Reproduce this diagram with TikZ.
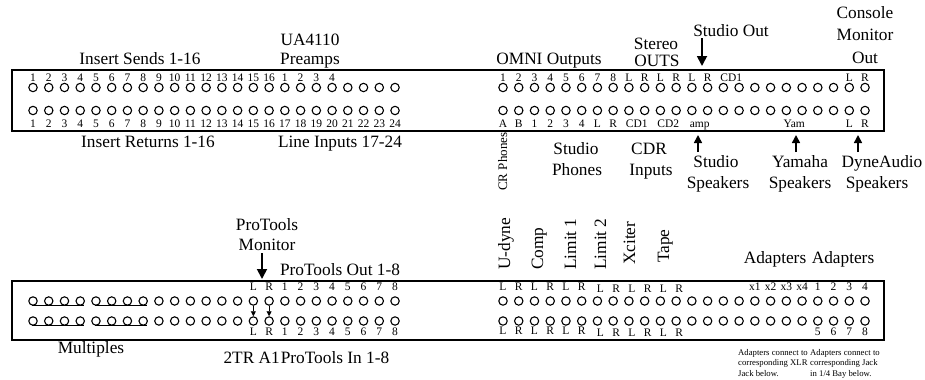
\documentclass[tikz,border=0pt]{standalone}
\usepackage{fontspec}
\setmainfont{Liberation Serif}
\usetikzlibrary{arrows.meta}
\begin{document}
\begin{tikzpicture}[x=1bp,y=-1bp,
  jack/.style={circle,draw,line width=1.1bp,minimum size=8.4bp,inner sep=0pt},
  big/.style={font=\fontsize{17.3bp}{20bp}\selectfont,inner sep=0pt,anchor=base},
  small/.style={font=\fontsize{11.5bp}{13bp}\selectfont,inner sep=0pt,anchor=base},
  vlab/.style={font=\fontsize{17.3bp}{20bp}\selectfont,inner sep=0pt,rotate=90,anchor=base west},
  note/.style={font=\fontsize{8.7bp}{10.5bp}\selectfont,inner sep=0pt,align=left,anchor=north west},
  panel/.style={draw,line width=1.7bp,inner sep=0pt,anchor=north west},
  bigarrow/.style={line width=1.8bp,-{Triangle[width=10bp,length=10bp]}},
  uparrow/.style={line width=1.6bp,-{Triangle[width=8bp,length=8bp]}},
  smallarrow/.style={line width=0.9bp,-{Triangle[width=5bp,length=5bp]}},
  mult/.style={line width=0.9bp}
]
\useasboundingbox (0,0) rectangle (925,379);

% panels
\node[panel,minimum width=872bp,minimum height=61bp] (ptop) at (11,69) {};
\node[panel,minimum width=872bp,minimum height=59bp] (pbot) at (11,280) {};

% jacks
\foreach \k in {0,...,23}{
  \node[jack] (a1-\k) at ({33+15.74*\k},87.5) {};
  \node[jack] (a2-\k) at ({33+15.74*\k},110.5) {};
  \node[jack] (b1-\k) at ({503+15.74*\k},87.5) {};
  \node[jack] (b2-\k) at ({503+15.74*\k},110.5) {};
  \node[jack] (c1-\k) at ({33+15.74*\k},301) {};
  \node[jack] (c2-\k) at ({33+15.74*\k},321) {};
  \node[jack] (d1-\k) at ({503+15.74*\k},301) {};
  \node[jack] (d2-\k) at ({503+15.74*\k},321) {};
}

% ---------- top panel labels ----------
\foreach \i in {0,...,15}{\pgfmathtruncatemacro\n{\i+1}
  \node[small] (la1-\i) at ({33+15.74*\i},81) {\n};}
\foreach \i in {16,...,19}{\pgfmathtruncatemacro\n{\i-15}
  \node[small] (la1-\i) at ({33+15.74*\i},81) {\n};}
\foreach \i in {0,...,23}{\pgfmathtruncatemacro\n{\i+1}
  \node[small] (la2-\i) at ({33+15.74*\i},127) {\n};}

\foreach \t [count=\i from 0] in {1,2,3,4,5,6,7,8,L,R,L,R,L,R}{
  \node[small] (lb1-\i) at ({503+15.74*\i},81) {\t};}
\node[small] (lb1-cd) at ({503+15.74*14.5},81) {CD1};
\node[small] (lb1-22) at ({503+15.74*22},81) {L};
\node[small] (lb1-23) at ({503+15.74*23},81) {R};

\foreach \t [count=\i from 0] in {A,B,1,2,3,4,L,R}{
  \node[small] (lb2-\i) at ({503+15.74*\i},127) {\t};}
\node[small] (lb2-cd1) at ({503+15.74*8.5},127) {CD1};
\node[small] (lb2-cd2) at ({503+15.74*10.5},127) {CD2};
\node[small] (lb2-amp) at ({503+15.74*12.5},127) {amp};
\node[small] (lb2-yam) at ({503+15.74*18.5},127) {Yam};
\node[small] (lb2-22) at ({503+15.74*22},127) {L};
\node[small] (lb2-23) at ({503+15.74*23},127) {R};

% top titles
\node[big] (tSends) at (140,64) {Insert Sends 1-16};
\node[big] (tUA) at (310,45) {UA4110};
\node[big] (tPre) at (310,64) {Preamps};
\node[big] (tOmni) at (549,64) {OMNI Outputs};
\node[big] (tStereo) at (656,49.5) {Stereo};
\node[big] (tOuts) at (657,66) {OUTS};
\node[big] (tStudioOut) at (731,36) {Studio Out};
\node[big] (tCon) at (865,18) {Console};
\node[big] (tMon) at (865,40) {Monitor};
\node[big] (tOut) at (865,63) {Out};
\coordinate (soA) at (702,38);
\coordinate (soB) at (702,66);
\draw[bigarrow] (soA) -- (soB);

% below top panel
\node[big] (tRet) at (148,147) {Insert Returns 1-16};
\node[big] (tLine) at (340,147) {Line Inputs 17-24};
\node[vlab,font=\fontsize{13bp}{15bp}\selectfont] (tCR) at (507,191) {CR Phones};
\node[big] (tSP1) at (576,154) {Studio};
\node[big] (tSP2) at (577,175) {Phones};
\node[big] (tCDR) at (649,154) {CDR};
\node[big] (tInp) at (651,175) {Inputs};
\node[big] (tSS1) at (716,167) {Studio};
\node[big] (tSS2) at (718,188) {Speakers};
\node[big] (tYS1) at (800,167) {Yamaha};
\node[big] (tYS2) at (800,188) {Speakers};
\node[big] (tDS1) at (882,167) {DyneAudio};
\node[big] (tDS2) at (877,188) {Speakers};
\coordinate (upA1) at (698,152); \coordinate (upB1) at (698,135);
\coordinate (upA2) at (796,152); \coordinate (upB2) at (796,135);
\coordinate (upA3) at (858,152); \coordinate (upB3) at (858,135);
\draw[uparrow] (upA1) -- (upB1);
\draw[uparrow] (upA2) -- (upB2);
\draw[uparrow] (upA3) -- (upB3);

% ---------- bottom panel labels ----------
\node[small] (lc1-14) at ({33+15.74*14},290) {L};
\node[small] (lc1-15) at ({33+15.74*15},290) {R};
\node[small] (lc2-14) at ({33+15.74*14},335) {L};
\node[small] (lc2-15) at ({33+15.74*15},335) {R};
\foreach \i in {16,...,23}{\pgfmathtruncatemacro\n{\i-15}
  \node[small] (lc1-\i) at ({33+15.74*\i},290) {\n};
  \node[small] (lc2-\i) at ({33+15.74*\i},335) {\n};}

\foreach \t [count=\i from 0] in {L,R,L,R,L,R}{
  \node[small] (ld1-\i) at ({503+15.74*\i},290) {\t};
  \node[small] (ld2-\i) at ({503+15.74*\i},334) {\t};}
\foreach \t [count=\i from 6] in {L,R,L,R,L,R}{
  \node[small] (ld1-\i) at ({506+15.74*\i},292) {\t};
  \node[small] (ld2-\i) at ({506+15.74*\i},336.5) {\t};}
\foreach \t [count=\i from 16] in {x1,x2,x3,x4,1,2,3,4}{
  \node[small] (ld1-\i) at ({503+15.74*\i},290) {\t};}
\foreach \t [count=\i from 20] in {5,6,7,8}{
  \node[small] (ld2-\i) at ({503+15.74*\i},335) {\t};}

% multiples
\draw[mult] ([xshift=-1bp]c1-0.south) -- ([xshift=4bp]c1-3.south);
\draw[mult] ([xshift=-1bp]c1-4.south) -- ([xshift=4bp]c1-7.south);
\draw[mult] ([xshift=-1bp]c2-0.south) -- ([xshift=4bp]c2-3.south);
\draw[mult] ([xshift=-1bp]c2-4.south) -- ([xshift=4bp]c2-7.south);

% 2TR arrows
\draw[smallarrow] (c1-14.south) -- (c2-14.north);
\draw[smallarrow] (c1-15.south) -- (c2-15.north);

% bottom titles
\node[big] (tPT1) at (267,230) {ProTools};
\node[big] (tPT2) at (267,250) {Monitor};
\coordinate (ptA) at (262,253);
\coordinate (ptB) at (262,279);
\draw[bigarrow] (ptA) -- (ptB);
\node[big] (tPTO) at (340,275) {ProTools Out 1-8};
\node[vlab] (vU) at (510,270) {U-dyne};
\node[vlab] (vC) at (543,270) {Comp};
\node[vlab] (vL1) at (576,270) {Limit 1};
\node[vlab] (vL2) at (606,270) {Limit 2};
\node[vlab] (vX) at (635,265) {Xciter};
\node[vlab] (vT) at (669,263) {Tape};
\node[big] (tAd1) at (775,263) {Adapters};
\node[big] (tAd2) at (843,263) {Adapters};
\node[big] (tMult) at (91,353) {Multiples};
\node[big,anchor=base east] (t2tr) at (280,363) {2TR A1};
\node[big] (tPTI) at (335,363) {ProTools In 1-8};
\node[note] (n1) at (738,349) {Adapters connect to\\corresponding XLR\\Jack below.};
\node[note] (n2) at (810,349) {Adapters connect to\\corresponding Jack\\in 1/4 Bay below.};
\end{tikzpicture}
\end{document}
